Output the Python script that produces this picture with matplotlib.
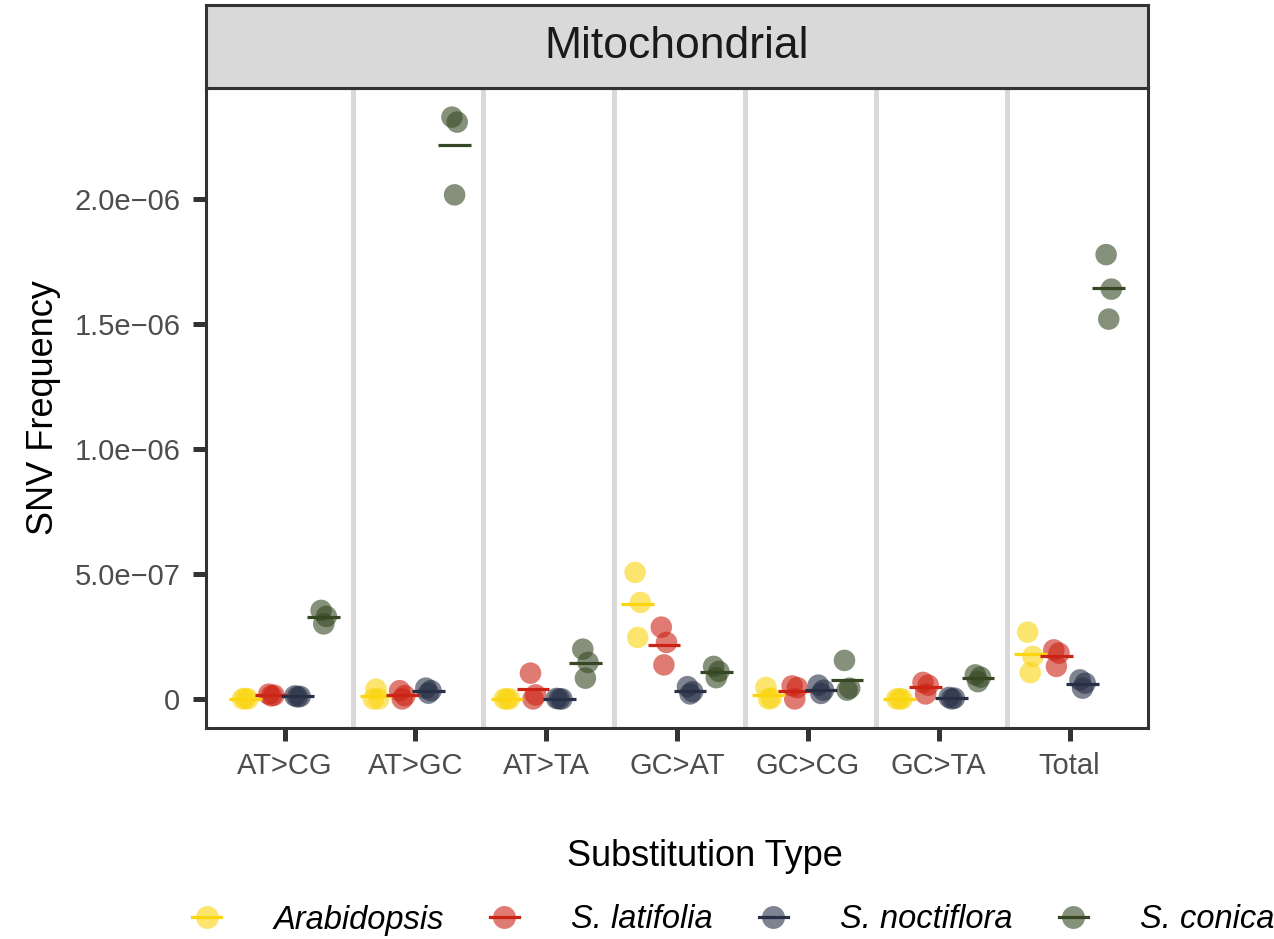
import matplotlib
matplotlib.use("Agg")
import matplotlib.pyplot as plt
import numpy as np
from matplotlib.lines import Line2D
from matplotlib.legend_handler import HandlerTuple
from matplotlib.ticker import MultipleLocator, FuncFormatter

plt.rcParams["font.family"] = ["Liberation Sans", "DejaVu Sans"]

categories = ["AT>CG", "AT>GC", "AT>TA", "GC>AT", "GC>CG", "GC>TA", "Total"]
species = ["Arabidopsis", "S. latifolia", "S. noctiflora", "S. conica"]
colors = ["#FAD510", "#CB2314", "#273046", "#354823"]

# SNV frequency, in units of 1e-7, three replicates per substitution type
arabidopsis = [[0.0, 0.0, 0.02], [0.0, 0.0, 0.39], [0.0, 0.0, 0.0], [5.06, 3.86, 2.46],
               [0.46, 0.03, 0.0], [0.0, 0.0, 0.0], [2.67, 1.70, 1.05]]
latifolia = [[0.19, 0.15, 0.12], [0.33, 0.13, 0.0], [1.03, 0.16, 0.0], [2.87, 2.26, 1.36],
             [0.52, 0.45, 0.0], [0.66, 0.55, 0.20], [1.96, 1.83, 1.30]]
noctiflora = [[0.12, 0.10, 0.08], [0.43, 0.33, 0.23], [0.02, 0.0, 0.0], [0.49, 0.29, 0.20],
              [0.55, 0.35, 0.22], [0.06, 0.03, 0.0], [0.76, 0.63, 0.43]]
conica = [[3.54, 3.30, 3.00], [23.27, 23.07, 20.16], [1.99, 1.46, 0.83], [1.30, 1.10, 0.85],
          [1.54, 0.43, 0.35], [0.96, 0.87, 0.69], [17.77, 16.39, 15.19]]

freqs = [arabidopsis, latifolia, noctiflora, conica]

W, H = 1274, 939
fig = plt.figure(figsize=(W / 100, H / 100), dpi=100)
ax = fig.add_axes([206 / W, 1 - 728 / H, 942 / W, 640 / H])

dark = "#333333"
dodge = [-0.3, -0.1, 0.1, 0.3]
jitter = np.array([-0.02, 0.02, 0.0])
xpos = np.arange(1, len(categories) + 1)

for k in xpos[:-1]:
    ax.axvline(k + 0.52, color="#D9D9D9", lw=3.6, zorder=0)

for s, (vals, col) in enumerate(zip(freqs, colors)):
    v = np.array(vals) * 1e-7
    for i in range(len(categories)):
        c = xpos[i] + dodge[s]
        ax.scatter(c + jitter, v[i], s=240, color=col, alpha=0.6,
                   edgecolors="none", zorder=2)
        ax.hlines(v[i].mean(), c - 0.125, c + 0.125, color=col, lw=2.3, zorder=3)

allv = np.concatenate([np.ravel(f) for f in freqs]) * 1e-7
lo, hi = allv.min(), allv.max()
pad = 0.05 * (hi - lo)
ax.set_ylim(lo - pad, hi + pad)
ax.set_xlim(0.4, len(categories) + 0.6)

ax.set_xticks(xpos)
ax.set_xticklabels(categories)
ax.yaxis.set_major_locator(MultipleLocator(5e-7))
ax.yaxis.set_major_formatter(FuncFormatter(
    lambda v, p: "0" if abs(v) < 1e-12 else ("%.1e" % v).replace("-", "\u2212")))

ax.tick_params(axis="both", length=9.4, width=3.6, color=dark,
               labelsize=21, labelcolor="#4D4D4D")
ax.tick_params(axis="y", pad=9)
ax.tick_params(axis="x", pad=8)
for sp in ax.spines.values():
    sp.set_color(dark)
    sp.set_linewidth(2.2)

ax.set_xlabel("Substitution Type", fontsize=26, labelpad=42)
ax.xaxis.label.set_x(0.53)
ax.set_ylabel("SNV Frequency", fontsize=26, labelpad=10)

# facet strip
strip = fig.add_axes([206 / W, 1 - 88 / H, 942 / W, 83 / H])
strip.set_facecolor("#D9D9D9")
strip.set_xticks([])
strip.set_yticks([])
for sp in strip.spines.values():
    sp.set_color(dark)
    sp.set_linewidth(2.2)
strip.text(0.5, 0.5, "Mitochondrial", fontsize=32, color="#1A1A1A",
           ha="center", va="center", transform=strip.transAxes)

handles = []
for col in colors:
    dot = Line2D([], [], marker="o", linestyle="none", markersize=16.5,
                 markerfacecolor=col, markeredgecolor="none", alpha=0.6)
    bar = Line2D([], [], color=col, lw=2.3)
    handles.append((dot, bar))

fig.legend(handles, species, handler_map={tuple: HandlerTuple(ndivide=1)},
           loc="center left", bbox_to_anchor=(192 / W, 1 - 920 / H), ncol=4,
           frameon=False, borderpad=0, borderaxespad=0, handlelength=0.9,
           handletextpad=1.6, columnspacing=1.4,
           prop={"size": 23.5, "style": "italic"})

fig.savefig("out.png", dpi=100)
